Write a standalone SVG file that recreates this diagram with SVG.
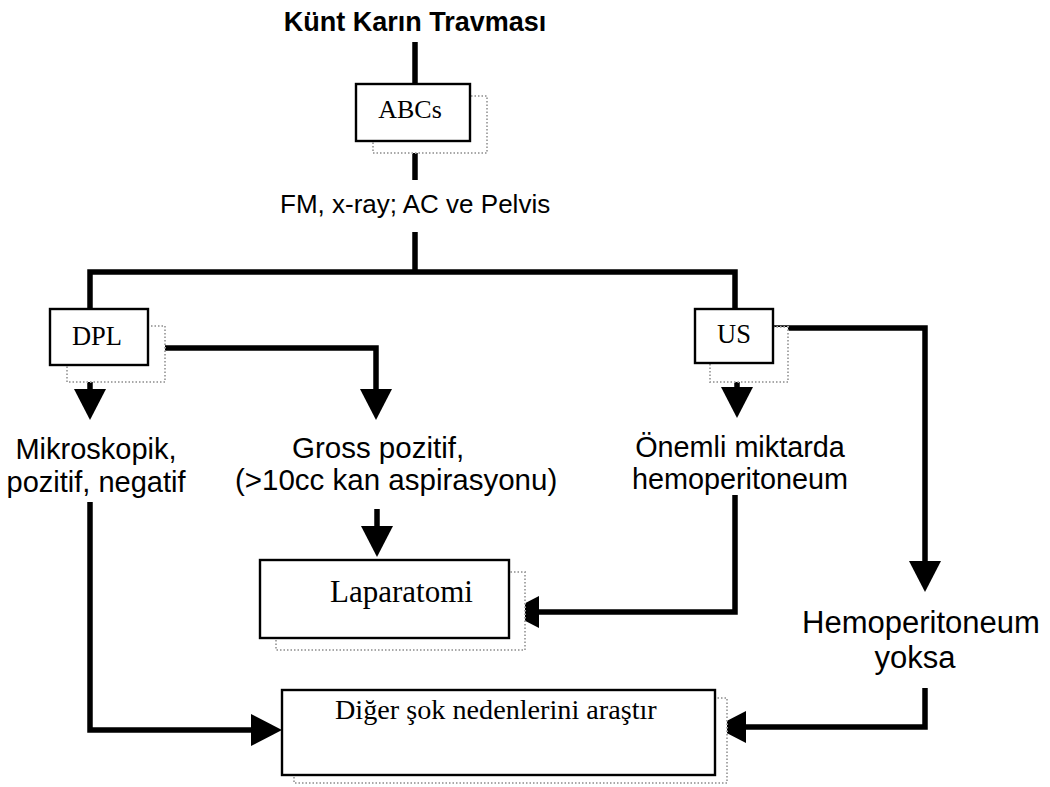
<svg xmlns="http://www.w3.org/2000/svg" width="1050" height="787" viewBox="0 0 1050 787">
<style>
.sans{font-family:"Liberation Sans",Arial,sans-serif;fill:#000}
.serif{font-family:"Liberation Serif","Times New Roman",serif;fill:#000}
.box{fill:#fff;stroke:#000;stroke-width:2.4}
.shadow{fill:#fff;stroke:#a8a8a8;stroke-width:2;stroke-dasharray:1.5 2}
.wire{fill:none;stroke:#000;stroke-width:5.5;stroke-linejoin:miter}
</style>
<defs>
<marker id="ah" markerUnits="userSpaceOnUse" markerWidth="32" markerHeight="32" refX="0" refY="16" orient="auto" viewBox="0 0 32 32">
<path d="M0,0 L31,16 L0,32 Z" fill="#000"/>
</marker>
</defs>
<rect width="1050" height="787" fill="#fff"/>

<g id="title">
<text class="sans" x="415" y="31" font-size="27" font-weight="bold" text-anchor="middle">Künt Karın Travması</text>
</g>

<g id="connectors">
<path class="wire" d="M415,42 V180"/>
<path class="wire" d="M415,232 V272"/>
<path class="wire" d="M90,309 V272 H735 V309"/>
<path class="wire" d="M90,365 V389" marker-end="url(#ah)"/>
<path class="wire" d="M148,348 H376 V389" marker-end="url(#ah)"/>
<path class="wire" d="M737,363 V387" marker-end="url(#ah)"/>
<path class="wire" d="M773,328 H925 V561" marker-end="url(#ah)"/>
<path class="wire" d="M377,509 V526" marker-end="url(#ah)"/>
<path class="wire" d="M735,495 V612 H539" marker-end="url(#ah)"/>
<path class="wire" d="M90,502 V730 H251" marker-end="url(#ah)"/>
<path class="wire" d="M925,688 V727 H746" marker-end="url(#ah)"/>
</g>

<g id="abcs">
<rect class="shadow" x="373" y="96" width="114" height="57"/>
<rect class="box" x="356" y="84" width="114" height="57"/>
<text class="serif" x="410" y="118" font-size="26" text-anchor="middle">ABCs</text>
</g>

<g id="fm">
<text class="sans" x="280" y="213" font-size="26">FM, x-ray; AC ve Pelvis</text>
</g>

<g id="dpl">
<rect class="shadow" x="67" y="326" width="98" height="56"/>
<rect class="box" x="50" y="309" width="98" height="56"/>
<text class="serif" x="97" y="345" font-size="26.5" text-anchor="middle">DPL</text>
</g>

<g id="us">
<rect class="shadow" x="710" y="327" width="78" height="55"/>
<rect class="box" x="695" y="309" width="78" height="54"/>
<text class="serif" x="734" y="343" font-size="26.5" text-anchor="middle">US</text>
</g>

<g id="mikroskopik">
<text class="sans" x="96" y="459" font-size="29" text-anchor="middle">Mikroskopik,</text>
<text class="sans" x="96" y="492" font-size="29" text-anchor="middle">pozitif, negatif</text>
</g>

<g id="gross">
<text class="sans" x="292" y="458" font-size="29.5">Gross pozitif,</text>
<text class="sans" x="235" y="490" font-size="29.5">(&gt;10cc kan aspirasyonu)</text>
</g>

<g id="onemli">
<text class="sans" x="740" y="457" font-size="28.8" text-anchor="middle">Önemli miktarda</text>
<text class="sans" x="740" y="489" font-size="28.8" text-anchor="middle">hemoperitoneum</text>
</g>

<g id="hemoyoksa">
<text class="sans" x="921" y="633" font-size="31" text-anchor="middle">Hemoperitoneum</text>
<text class="sans" x="915" y="668" font-size="31" text-anchor="middle">yoksa</text>
</g>

<g id="laparatomi">
<rect class="shadow" x="276" y="572" width="249" height="78"/>
<rect class="box" x="260" y="560" width="249" height="78"/>
<text class="serif" x="330" y="602" font-size="31">Laparatomi</text>
</g>

<g id="diger">
<rect class="shadow" x="294" y="698" width="433" height="85"/>
<rect class="box" x="282" y="690" width="433" height="85"/>
<text class="serif" x="335" y="719" font-size="28.2">Diğer şok nedenlerini araştır</text>
</g>
</svg>
